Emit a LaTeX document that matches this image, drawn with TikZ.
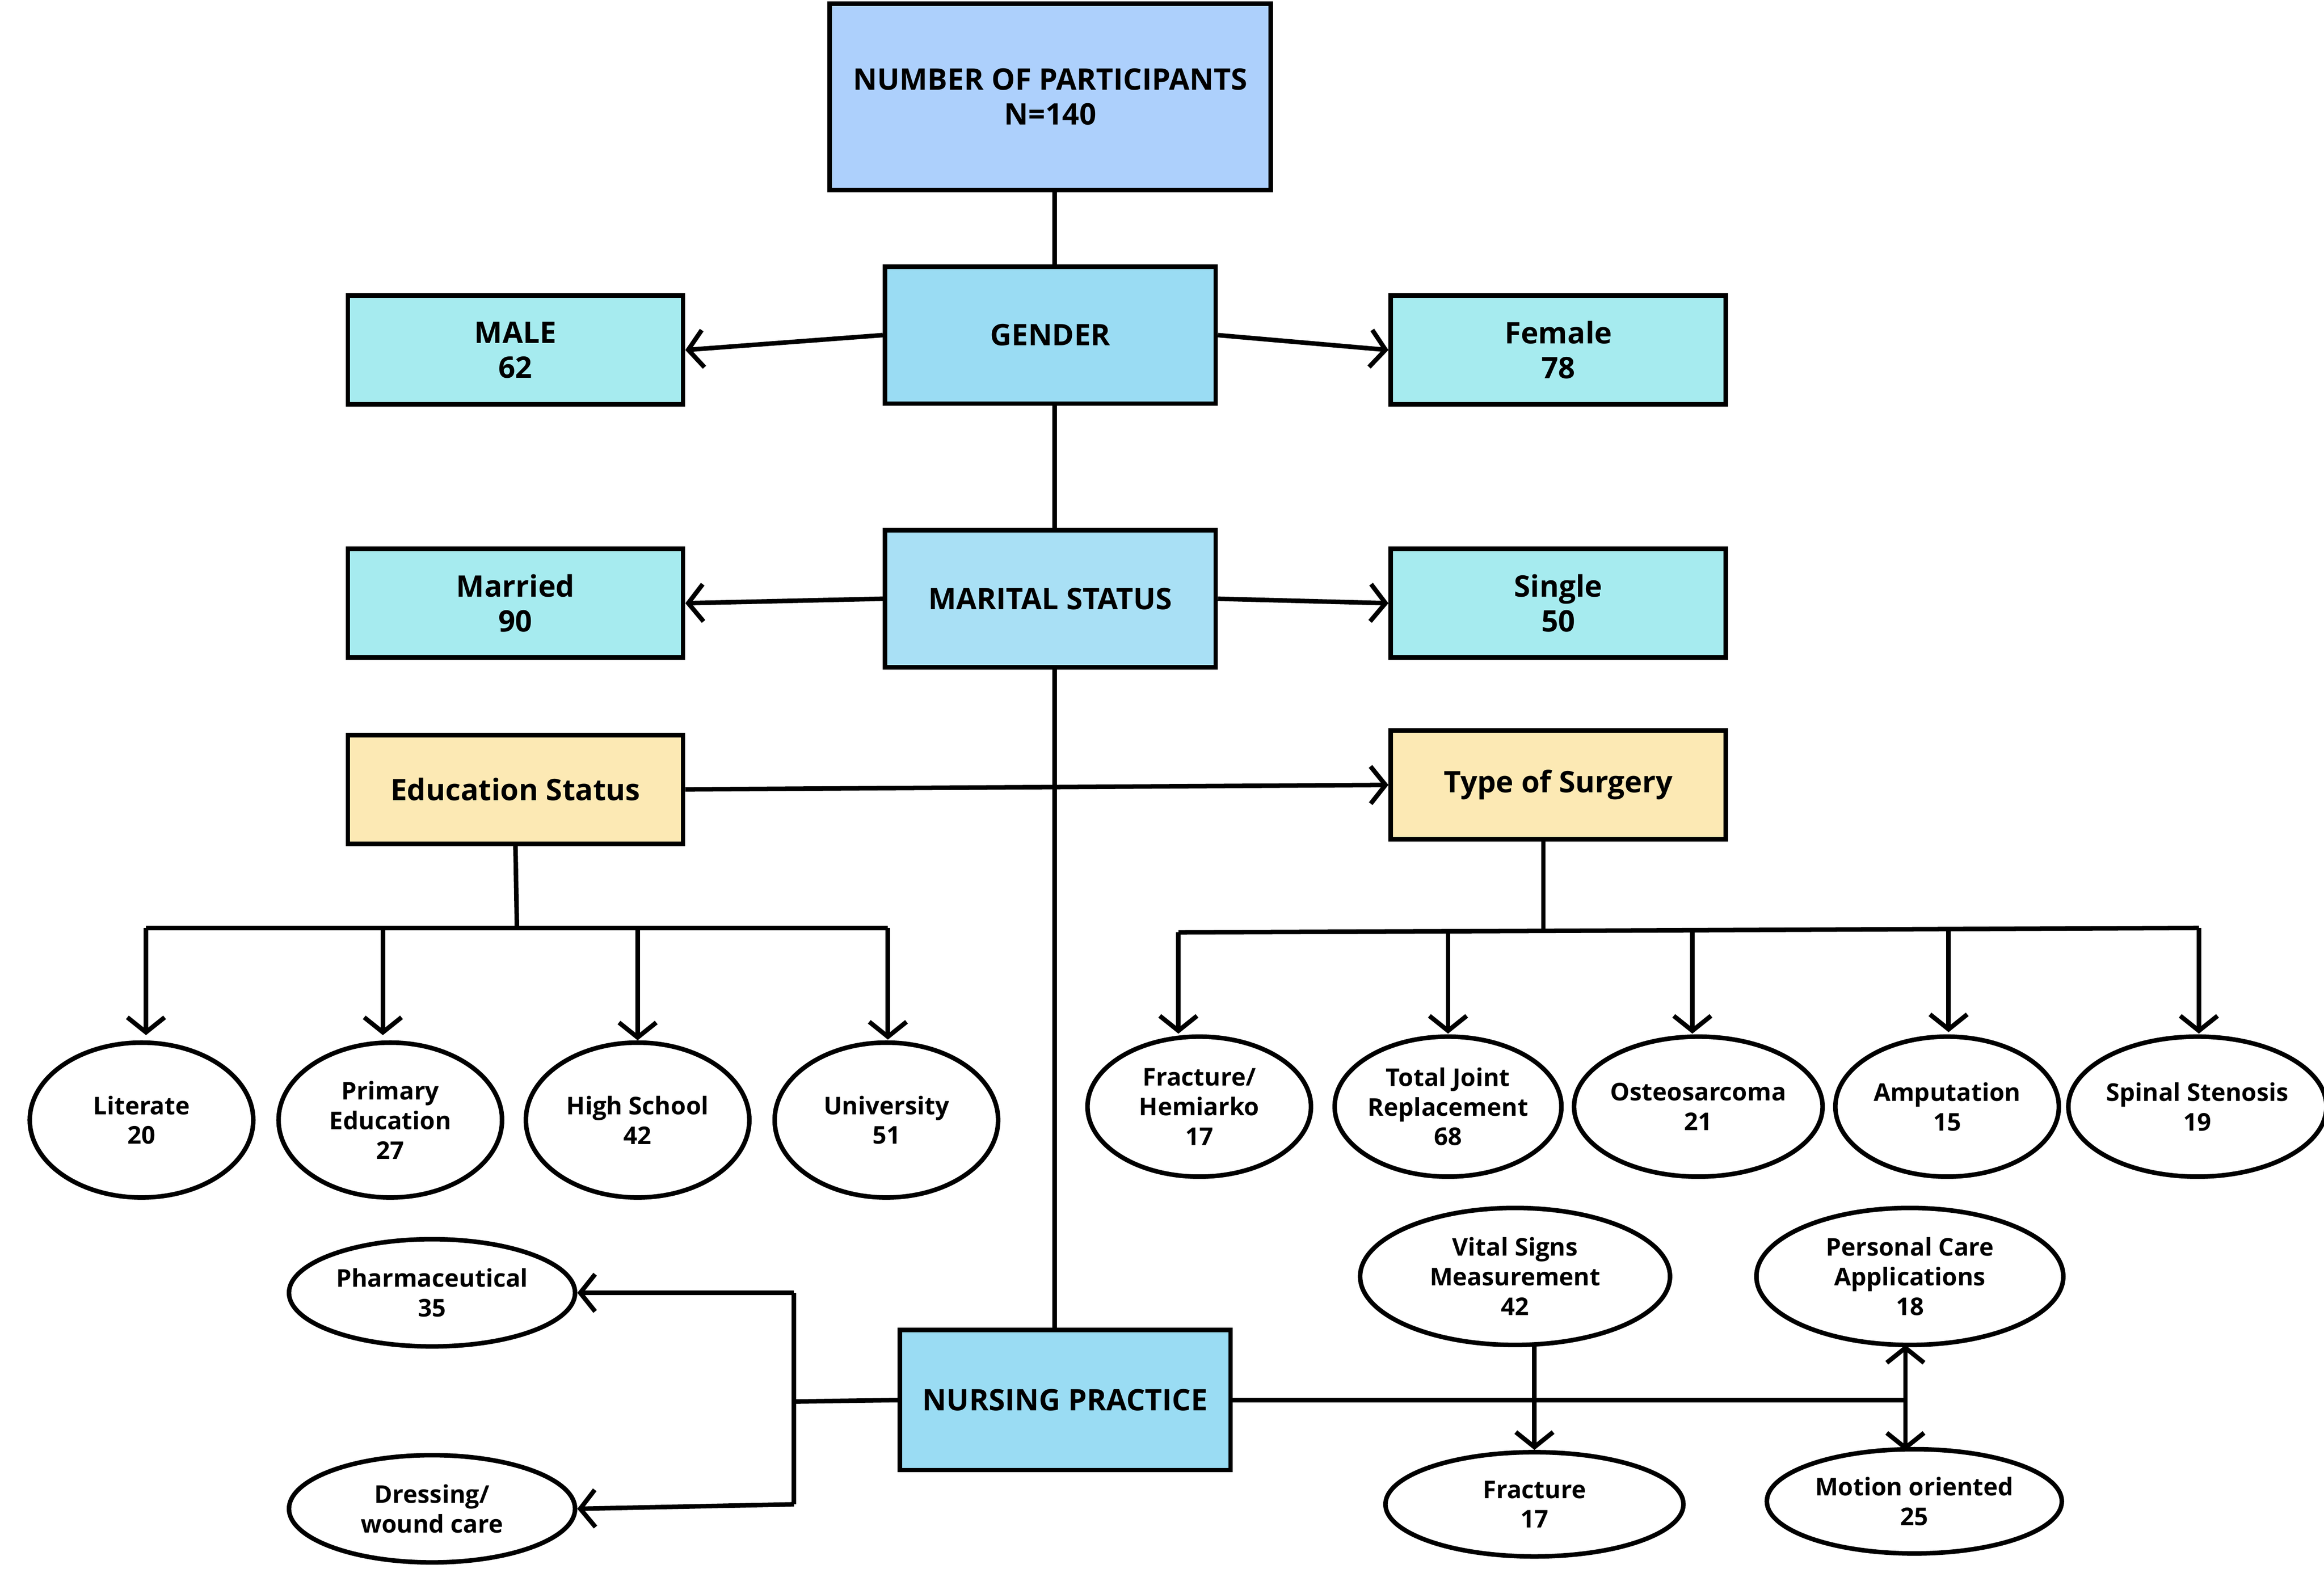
\documentclass[tikz,border=0pt]{standalone}
\usepackage{fontspec}
\setmainfont{Open Sans}
\usetikzlibrary{arrows.meta,shapes.geometric}
\definecolor{ctop}{HTML}{ADD0FC}
\definecolor{cgen}{HTML}{9ADCF3}
\definecolor{cmar}{HTML}{A9E0F5}
\definecolor{cleaf}{HTML}{A6EBEF}
\definecolor{cedu}{HTML}{FCE9B4}
\tikzset{
 every node/.style={inner sep=0pt,align=center,font=\fontsize{17}{20}\selectfont\bfseries},
 box/.style={draw,line width=2.6pt,rectangle},
 ell/.style={draw,line width=2.6pt,ellipse,font=\fontsize{14}{17}\selectfont\bfseries},
 ln/.style={line width=2.6pt},
 arr/.style={line width=2.6pt,-{Straight Barb[length=0.3cm,width=0.75cm,line width=2.6pt]}}
}
\begin{document}
\begin{tikzpicture}[x=0.03cm,y=-0.03cm]
\useasboundingbox (0,0) rectangle (1560,1056);
\node[box,fill=ctop,minimum width=8.88cm,minimum height=3.75cm] (top) at (705,65) {NUMBER OF PARTICIPANTS\\N=140};
\node[box,fill=cgen,minimum width=6.66cm,minimum height=2.76cm] (gen) at (705,225) {GENDER};
\node[box,fill=cleaf,minimum width=6.75cm,minimum height=2.19cm] (male) at (346,235) {MALE\\62};
\node[box,fill=cleaf,minimum width=6.75cm,minimum height=2.19cm] (fem) at (1046,235) {Female\\78};
\node[box,fill=cmar,minimum width=6.66cm,minimum height=2.76cm] (mar) at (705,402) {MARITAL STATUS};
\node[box,fill=cleaf,minimum width=6.75cm,minimum height=2.19cm] (mrd) at (346,405) {Married\\90};
\node[box,fill=cleaf,minimum width=6.75cm,minimum height=2.19cm] (sgl) at (1046,405) {Single\\50};
\node[box,fill=cedu,minimum width=6.75cm,minimum height=2.19cm] (edu) at (346,530) {Education Status};
\node[box,fill=cedu,minimum width=6.75cm,minimum height=2.19cm] (sur) at (1046,527) {Type of Surgery};
\node[box,fill=cgen,minimum width=6.66cm,minimum height=2.82cm] (nur) at (715,940) {NURSING PRACTICE};

\foreach \n/\x/\t in {lit/95/{Literate\\20}, pri/262/{Primary\\Education\\27}, hig/428/{High School\\42}, uni/595/{University\\51}}
  \node[ell,minimum width=4.5cm,minimum height=3.12cm] (\n) at (\x,752) {\t};
\foreach \n/\x/\t in {fra/805/{Fracture/\\Hemiarko\\17}, tjr/972/{Total Joint\\Replacement\\68}, ost/1140/{Osteosarcoma\\21}, amp/1307/{Amputation\\15}, spi/1475/{Spinal Stenosis\\19}}
  \node[ell,minimum width=4.5cm,minimum height=2.82cm] (\n) at (\x,743) {\t};
\node[ell,minimum width=5.76cm,minimum height=2.16cm] (pha) at (290,868) {Pharmaceutical\\35};
\node[ell,minimum width=5.76cm,minimum height=2.16cm] (dre) at (290,1013) {Dressing/\\wound care};
\node[ell,minimum width=6.24cm,minimum height=2.76cm] (vit) at (1017,857) {Vital Signs\\Measurement\\42};
\node[ell,minimum width=6.18cm,minimum height=2.76cm] (per) at (1282,857) {Personal Care\\Applications\\18};
\node[ell,minimum width=6.0cm,minimum height=2.1cm] (frc) at (1030,1010) {Fracture\\17};
\node[ell,minimum width=5.94cm,minimum height=2.1cm] (mot) at (1285,1008) {Motion oriented\\25};

% spine
\draw[ln] (top.south -| 708,0) -- (gen.north -| 708,0);
\draw[ln] (gen.south -| 708,0) -- (mar.north -| 708,0);
\draw[ln] (mar.south -| 708,0) -- (nur.north -| 708,0);
\draw[arr] (gen.west) -- (male.east);
\draw[arr] (gen.east) -- (fem.west);
\draw[arr] (mar.west) -- (mrd.east);
\draw[arr] (mar.east) -- (sgl.west);
\draw[arr] (edu.east) -- (sur.west);
% education tree
\coordinate (eh) at (347,623);
\draw[ln] (edu.south) -- (eh);
\draw[ln] (98,623) -- (596,623);
\draw[arr] (98,623) -- (98,695);
\draw[arr] (257,623) -- (257,695);
\draw[arr] (428,623) -- (hig.north);
\draw[arr] (596,623) -- (596,698);
% surgery tree
\draw[ln] (sur.south -| 1036,0) -- (1036,625);
\draw[ln] (791,626) -- (1036,625) -- (1476,623);
\draw[arr] (791,626) -- (791,694);
\draw[arr] (972,625) -- (972,694);
\draw[arr] (1136,624) -- (1136,694);
\draw[arr] (1308,623) -- (1308,693);
\draw[arr] (1476,623) -- (1476,694);
% nursing left
\draw[ln] (nur.west) -- (533,941);
\draw[ln] (533,868) -- (533,1010);
\draw[arr] (533,868) -- (pha.east);
\draw[arr] (533,1010) -- (dre.east);
% nursing right
\draw[ln] (nur.east) -- (1279,940);
\draw[arr] (1030,903) -- (frc.north);
\draw[arr] (1279,940) -- (1279,903);
\draw[arr] (1279,940) -- (1279,974);
\end{tikzpicture}
\end{document}
